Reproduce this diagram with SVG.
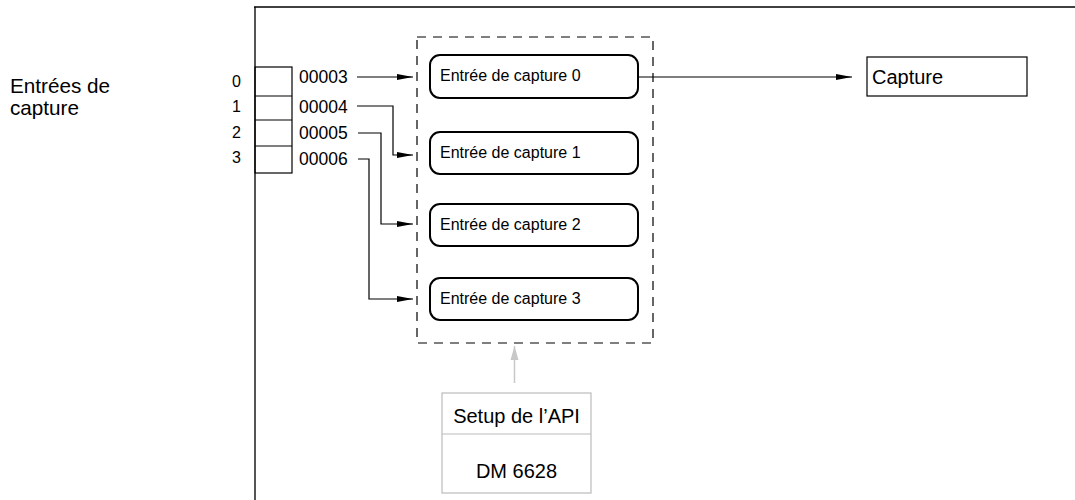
<svg xmlns="http://www.w3.org/2000/svg" width="1075" height="500" viewBox="0 0 1075 500">
<style>
text{font-family:"Liberation Sans",Arial,sans-serif;fill:#000}
.big{font-size:20px}
.lbl{font-size:20.7px}
.mid{font-size:16px}
.num{font-size:17.5px}
.idx{font-size:16px}
.ln{fill:none;stroke:#000;stroke-width:1.2}
.node{fill:#fff;stroke:#000;stroke-width:2}
</style>
<defs>
<marker id="ah" markerWidth="16" markerHeight="8" refX="16" refY="4" orient="auto" markerUnits="userSpaceOnUse">
<path d="M0,1 L16,4 L0,7 Z" fill="#000"/>
</marker>
<marker id="ahg" markerWidth="10" markerHeight="14" refX="5" refY="0" orient="0" markerUnits="userSpaceOnUse">
<path d="M1,14 L5,0 L9,14 Z" fill="#c8c8c8"/>
</marker>
</defs>
<g id="frame">
<line x1="255" y1="7" x2="255" y2="500" stroke="#555" stroke-width="2"/>
<line x1="254" y1="7" x2="1075" y2="7" stroke="#000" stroke-width="1.6"/>
</g>
<g id="label-entrees">
<text class="lbl" x="10" y="93">Entrées de</text>
<text class="lbl" x="10" y="115">capture</text>
</g>
<g id="inputs">
<rect x="255" y="67" width="37" height="106" fill="none" stroke="#000" stroke-width="1.2"/>
<line x1="255" y1="96" x2="292" y2="96" stroke="#000" stroke-width="1.2"/>
<line x1="255" y1="120" x2="292" y2="120" stroke="#000" stroke-width="1.2"/>
<line x1="255" y1="146" x2="292" y2="146" stroke="#000" stroke-width="1.2"/>
<text class="idx" x="232" y="87">0</text>
<text class="idx" x="232" y="112">1</text>
<text class="idx" x="232" y="138">2</text>
<text class="idx" x="232" y="163">3</text>
<text class="num" x="299" y="83">00003</text>
<text class="num" x="299" y="113">00004</text>
<text class="num" x="299" y="139">00005</text>
<text class="num" x="299" y="165">00006</text>
</g>
<g id="group-box">
<rect x="417" y="37" width="236" height="306" fill="none" stroke="#000" stroke-width="1.2" stroke-dasharray="9,7"/>
</g>
<g id="capture0">
<rect class="node" x="430" y="55" width="208" height="43" rx="10"/>
<text class="mid" x="440" y="81">Entrée de capture 0</text>
</g>
<g id="capture1">
<rect class="node" x="430" y="132" width="208" height="42" rx="10"/>
<text class="mid" x="440" y="158">Entrée de capture 1</text>
</g>
<g id="capture2">
<rect class="node" x="430" y="204" width="208" height="42" rx="10"/>
<text class="mid" x="440" y="230">Entrée de capture 2</text>
</g>
<g id="capture3">
<rect class="node" x="430" y="278" width="208" height="42" rx="10"/>
<text class="mid" x="440" y="304">Entrée de capture 3</text>
</g>
<g id="capture-out">
<rect x="867" y="57" width="160" height="39" fill="#fff" stroke="#000" stroke-width="1.2"/>
<text class="big" x="872" y="84">Capture</text>
</g>
<g id="setup">
<rect x="442" y="393" width="149" height="100" fill="#fff" stroke="#bbb" stroke-width="1.2"/>
<line x1="442" y1="434" x2="591" y2="434" stroke="#bbb" stroke-width="1.2"/>
<text class="big" x="516.5" y="423" text-anchor="middle">Setup de l’API</text>
<text class="big" x="516.5" y="478" text-anchor="middle">DM 6628</text>
</g>
<g id="connectors">
<path class="ln" d="M357,77 H413" marker-end="url(#ah)"/>
<path class="ln" d="M357,106 H393 V155 H413" marker-end="url(#ah)"/>
<path class="ln" d="M358,133 H381 V224 H413" marker-end="url(#ah)"/>
<path class="ln" d="M358,159 H369 V299 H413" marker-end="url(#ah)"/>
<path class="ln" d="M638,77 H852" marker-end="url(#ah)"/>
<line x1="514.5" y1="383" x2="514.5" y2="346" stroke="#c8c8c8" stroke-width="1.5" marker-end="url(#ahg)"/>
</g>
</svg>
